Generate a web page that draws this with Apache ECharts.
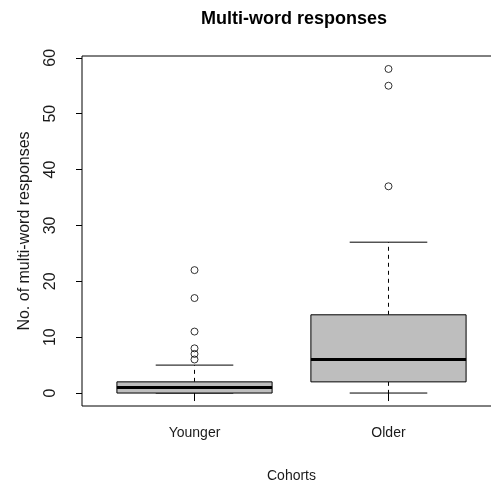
<!DOCTYPE html>
<html>
<head>
<meta charset="utf-8">
<script src="https://cdn.jsdelivr.net/npm/echarts@6/dist/echarts.min.js"></script>
<style>
html,body{margin:0;padding:0;background:#fff;overflow:hidden;}
#chart{width:491px;height:486px;}
</style>
</head>
<body>
<div id="chart"></div>
<script>
// ---- data ----
const categories = ['Younger', 'Older'];
const lowerWhisker = [0, 0];
const q1 = [0, 2];
const median = [1, 6];
const q3 = [2, 14];
const upperWhisker = [5, 27];
const outliersYounger = [6, 7, 8, 11, 17, 22];
const outliersOlder = [37, 55, 58];
const yTicks = [0, 10, 20, 30, 40, 50, 60];

// ---- build ----
const boxData = categories.map((c, i) => [i + 1, lowerWhisker[i], q1[i], median[i], q3[i], upperWhisker[i]]);
const outlierData = [];
[outliersYounger, outliersOlder].forEach((arr, i) => arr.forEach(v => outlierData.push([i + 1, v])));

const font = 'Liberation Sans, Arial, sans-serif';
const chart = echarts.init(document.getElementById('chart'), null, {renderer: 'canvas'});

function renderBox(params, api) {
  const x = api.value(0);
  const lw = api.value(1), lq = api.value(2), md = api.value(3), uq = api.value(4), uw = api.value(5);
  const boxW = api.size([0.8, 0])[0];
  const capW = api.size([0.4, 0])[0];
  const pLw = api.coord([x, lw]);
  const pLq = api.coord([x, lq]);
  const pMd = api.coord([x, md]);
  const pUq = api.coord([x, uq]);
  const pUw = api.coord([x, uw]);
  const cx = pMd[0];
  const children = [];
  const dashStyle = {stroke: '#000', lineWidth: 1, lineDash: [4, 4]};
  const solid = {stroke: '#000', lineWidth: 1};
  if (uw > uq) children.push({type: 'line', shape: {x1: cx, y1: pUq[1], x2: cx, y2: pUw[1]}, style: dashStyle});
  if (lq > lw) children.push({type: 'line', shape: {x1: cx, y1: pLq[1], x2: cx, y2: pLw[1]}, style: dashStyle});
  children.push({type: 'line', shape: {x1: cx - capW / 2, y1: pUw[1], x2: cx + capW / 2, y2: pUw[1]}, style: solid});
  children.push({type: 'line', shape: {x1: cx - capW / 2, y1: pLw[1], x2: cx + capW / 2, y2: pLw[1]}, style: solid});
  children.push({type: 'rect', shape: {x: cx - boxW / 2, y: pUq[1], width: boxW, height: pLq[1] - pUq[1]},
    style: {fill: '#bebebe', stroke: '#000', lineWidth: 1}});
  children.push({type: 'line', shape: {x1: cx - boxW / 2, y1: pMd[1], x2: cx + boxW / 2, y2: pMd[1]},
    style: {stroke: '#000', lineWidth: 3}});
  return {type: 'group', children: children};
}

const option = {
  animation: false,
  backgroundColor: '#fff',
  title: {
    text: 'Multi-word responses',
    left: 196, top: 5,
    textStyle: {fontFamily: font, fontSize: 18, fontWeight: 'bold', color: '#000'}
  },
  grid: {
    left: 82, top: 56, width: 419, height: 350,
    outerBoundsMode: 'none', containLabel: false,
    show: true, borderColor: '#000', borderWidth: 1, backgroundColor: 'transparent'
  },
  xAxis: {
    type: 'value', min: 0.42, max: 2.58,
    name: 'Cohorts', nameLocation: 'middle', nameGap: 63,
    nameTextStyle: {fontFamily: font, fontSize: 14, color: '#1a1a1a'},
    axisLine: {show: false},
    splitLine: {show: false},
    axisTick: {show: true, customValues: [1, 2], length: 8, lineStyle: {color: '#000'}},
    axisLabel: {customValues: [1, 2], margin: 20, fontFamily: font, fontSize: 14, color: '#1a1a1a',
      formatter: v => categories[Math.round(v) - 1] || ''}
  },
  yAxis: {
    type: 'value', min: -2.32, max: 60.32,
    name: 'No. of multi-word responses', nameLocation: 'middle', nameGap: 49,
    nameTextStyle: {fontFamily: font, fontSize: 16, color: '#1a1a1a'},
    axisLine: {show: false},
    splitLine: {show: false},
    axisTick: {show: true, customValues: yTicks, length: 6, lineStyle: {color: '#000'}},
    axisLabel: {customValues: yTicks, rotate: 90, margin: 23, fontFamily: font, fontSize: 16, color: '#1a1a1a'}
  },
  series: [
    {
      type: 'custom', name: 'box', data: boxData, renderItem: renderBox,
      encode: {x: 0, y: [1, 2, 3, 4, 5]}, clip: false, z: 2
    },
    {
      type: 'scatter', name: 'outliers', data: outlierData, symbol: 'circle', symbolSize: 7,
      itemStyle: {color: 'rgba(0,0,0,0)', borderColor: '#000', borderWidth: 1}, z: 3
    }
  ]
};
chart.setOption(option);
</script>
</body>
</html>
